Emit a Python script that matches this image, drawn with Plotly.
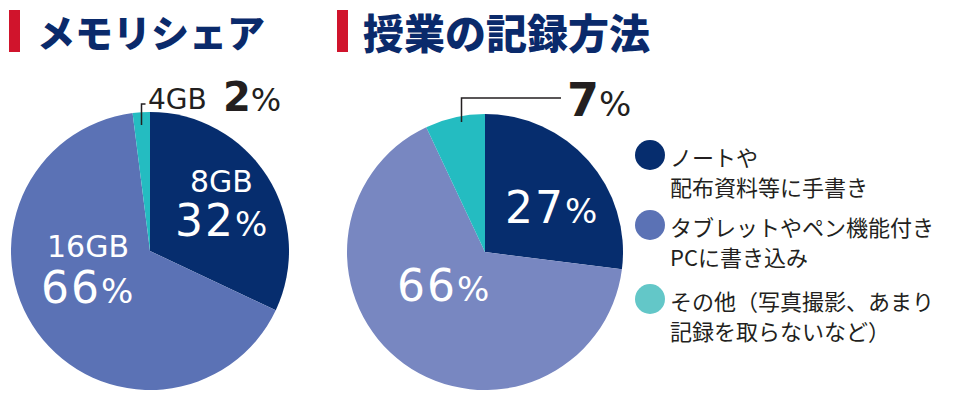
import plotly.graph_objects as go

W, H = 954, 394

# ---- data ----
mem_labels = ["8GB", "16GB", "4GB"]
mem_values = [32, 66, 2]
rec_labels = ["ノートや<br>配布資料等に手書き",
              "タブレットやペン機能付き<br>PCに書き込み",
              "その他（写真撮影、あまり<br>記録を取らないなど）"]
rec_values = [27, 66, 7]
titles = ["メモリシェア", "授業の記録方法"]

NAVY = "#062d6e"
MID_L = "#5b72b5"
MID_R = "#7887c1"
TEAL = "#24bcc1"
TEAL_LEG = "#63c7c8"
TXT = "#231f20"
TITLE = "#0a2a6b"
RED = "#d0142c"
JP = "Noto Sans CJK JP"
LAT = "DejaVu Sans, Liberation Sans, sans-serif"


def px(x):
    return x / W


def py(y):
    return 1 - y / H


def dom(cx, cy, r):
    return dict(x=[px(cx - r), px(cx + r)], y=[py(cy + r), py(cy - r)])


fig = go.Figure()
fig.add_trace(go.Pie(labels=mem_labels, values=mem_values, sort=False,
                     direction="clockwise", rotation=0, textinfo="none",
                     marker=dict(colors=[NAVY, MID_L, TEAL], line=dict(width=0)),
                     domain=dom(150, 251, 139), showlegend=False))
fig.add_trace(go.Pie(labels=rec_labels, values=rec_values, sort=False,
                     direction="clockwise", rotation=0, textinfo="none",
                     marker=dict(colors=[NAVY, MID_R, TEAL], line=dict(width=0)),
                     domain=dom(485, 252, 138), showlegend=False))

ann = []


def text(x, y, s, size, color, family=LAT, xanchor="center", weight="normal"):
    ann.append(dict(x=px(x), y=py(y), xref="paper", yref="paper", text=s,
                    showarrow=False, xanchor=xanchor, yanchor="middle",
                    font=dict(size=size, color=color, family=family, weight=weight)))


def pct(v, small):
    return (f"<span style='letter-spacing:2px'>{v}</span>"
            f"<span style='font-size:{small}px'>%</span>")


# titles
text(35, 31, titles[0], 38, TITLE, JP, "left", 900)
text(361, 31, titles[1], 41, TITLE, JP, "left", 900)

# left pie labels
text(221, 181, mem_labels[0], 30, "white")
text(221, 221, pct(mem_values[0], 34), 44, "white")
text(88, 246, mem_labels[1], 30, "white")
text(87, 287, pct(mem_values[1], 34), 44, "white")
text(146, 99, mem_labels[2], 28, TXT, xanchor="left")
text(221, 97, f"<b>{mem_values[2]}</b><span style='font-size:32px'>%</span>", 40, TXT, xanchor="left")

# right pie labels
text(551, 207, pct(rec_values[0], 34), 44, "white")
text(443, 285, pct(rec_values[1], 34), 44, "white")
text(565, 100, f"<b>{rec_values[2]}</b><span style='font-size:34px'>%</span>", 46, TXT, xanchor="left")

shapes = []
# red bars
for x0 in (9, 337):
    shapes.append(dict(type="rect", xref="paper", yref="paper",
                       x0=px(x0), x1=px(x0 + 11), y0=py(52), y1=py(10),
                       fillcolor=RED, line=dict(width=0)))
# leader lines
line = dict(color=TXT, width=1.5)
shapes.append(dict(type="path", xref="paper", yref="paper",
                   path=f"M {px(145.5)} {py(104)} L {px(141.5)} {py(104)} L {px(141.5)} {py(125)}",
                   line=line))
shapes.append(dict(type="path", xref="paper", yref="paper",
                   path=f"M {px(561)} {py(98)} L {px(461.5)} {py(98)} L {px(461.5)} {py(122)}",
                   line=line))

# custom legend
leg_colors = [NAVY, MID_L, TEAL_LEG]
leg_cy = [155, 225, 299]
for c, cy, lab in zip(leg_colors, leg_cy, rec_labels):
    shapes.append(dict(type="circle", xref="paper", yref="paper",
                       x0=px(635), x1=px(665), y0=py(cy + 15), y1=py(cy - 15),
                       fillcolor=c, line=dict(width=0)))
    for i, ln in enumerate(lab.split("<br>")):
        ann.append(dict(x=px(668), y=py(cy + 1 + 30 * i), xref="paper", yref="paper",
                        text=ln, showarrow=False, xanchor="left", yanchor="middle",
                        align="left",
                        font=dict(size=22, color=TXT, family=JP)))

fig.update_layout(width=W, height=H, margin=dict(l=0, r=0, t=0, b=0),
                  paper_bgcolor="white", plot_bgcolor="white",
                  annotations=ann, shapes=shapes)
fig.write_html("out.html", config={"displayModeBar": False},
               post_script="document.body.style.margin='0';document.body.style.padding='0';")
